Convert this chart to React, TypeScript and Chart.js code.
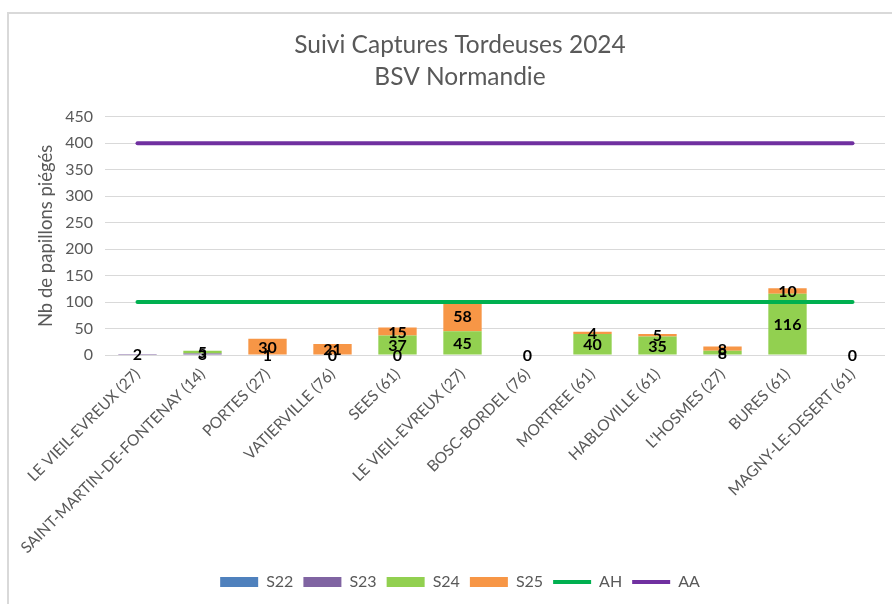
import React, { useEffect, useRef } from "react";
import { Chart, registerables } from "chart.js";

Chart.register(...registerables);

const categories = [
  "LE VIEIL-EVREUX (27)",
  "SAINT-MARTIN-DE-FONTENAY (14)",
  "PORTES (27)",
  "VATIERVILLE (76)",
  "SEES (61)",
  "LE VIEIL-EVREUX (27)",
  "BOSC-BORDEL (76)",
  "MORTREE (61)",
  "HABLOVILLE (61)",
  "L'HOSMES (27)",
  "BURES (61)",
  "MAGNY-LE-DESERT (61)",
];

const s22: (number | null)[] = [null, null, null, null, null, null, null, null, null, null, null, null];
const s23: (number | null)[] = [2, 3, null, null, 0, null, null, null, null, null, null, null];
const s24: (number | null)[] = [null, 5, 1, 0, 37, 45, 0, 40, 35, 8, 116, 0];
const s25: (number | null)[] = [null, null, 30, 21, 15, 58, null, 4, 5, 8, 10, null];
const ah: number[] = [100, 100, 100, 100, 100, 100, 100, 100, 100, 100, 100, 100];
const aa: number[] = [400, 400, 400, 400, 400, 400, 400, 400, 400, 400, 400, 400];

const yMin = 0;
const yMax = 450;
const yStep = 50;

const TEXT = "#595959";
const FONT = "Lato";

const valueLabels = {
  id: "valueLabels",
  afterDatasetsDraw(chart: any) {
    const ctx = chart.ctx;
    ctx.save();
    ctx.font = `bold 16px ${FONT}`;
    ctx.fillStyle = "#000000";
    ctx.textAlign = "center";
    ctx.textBaseline = "middle";
    chart.data.datasets.forEach((ds: any, i: number) => {
      if (ds.type === "line") return;
      const meta = chart.getDatasetMeta(i);
      meta.data.forEach((el: any, j: number) => {
        const v = ds.data[j];
        if (v === null || v === undefined) return;
        const p = el.getProps(["x", "y", "base"], true);
        ctx.fillText(String(v), p.x, (p.y + p.base) / 2 + 1);
      });
    });
    ctx.restore();
  },
};

export default function App() {
  const ref = useRef<HTMLCanvasElement | null>(null);

  useEffect(() => {
    if (!ref.current) return;
    const barCommon = {
      type: "bar" as const,
      stack: "s",
      borderWidth: 0,
      pointStyle: "rect",
      categoryPercentage: 1,
      barPercentage: 0.59,
      order: 1,
    };
    const lineCommon = {
      type: "line" as const,
      borderWidth: 4,
      pointRadius: 0,
      pointHoverRadius: 0,
      pointStyle: "line",
      borderCapStyle: "round",
      fill: false,
      order: 0,
    };
    const chart = new Chart(ref.current, {
      type: "bar",
      data: {
        labels: categories,
        datasets: [
          { ...barCommon, label: "S22", data: s22, backgroundColor: "#4f81bd" },
          { ...barCommon, label: "S23", data: s23, backgroundColor: "#8064a2" },
          { ...barCommon, label: "S24", data: s24, backgroundColor: "#92d050" },
          { ...barCommon, label: "S25", data: s25, backgroundColor: "#f79646" },
          { ...lineCommon, label: "AH", stack: "ah", data: ah, borderColor: "#00b050", backgroundColor: "#00b050" },
          { ...lineCommon, label: "AA", stack: "aa", data: aa, borderColor: "#7030a0", backgroundColor: "#7030a0" },
        ] as any,
      },
      options: {
        responsive: false,
        animation: false,
        layout: { padding: { left: 35, right: 31, top: 0, bottom: 4 } },
        plugins: {
          tooltip: { enabled: false },
          title: {
            display: true,
            text: ["Suivi Captures Tordeuses 2024", "BSV Normandie"],
            color: TEXT,
            font: { family: FONT, size: 24.5, weight: "normal", lineHeight: 1.3 },
            padding: { top: 29, bottom: 24 },
          },
          legend: {
            position: "bottom",
            labels: {
              usePointStyle: true,
              pointStyleWidth: 38,
              boxHeight: 10,
              color: TEXT,
              font: { family: FONT, size: 16 },
              padding: 10,
              sort: (a: any, b: any) => a.datasetIndex - b.datasetIndex,
            },
          },
        },
        scales: {
          x: {
            stacked: true,
            grid: { display: false },
            border: { display: false },
            afterFit: (scale: any) => {
              scale.paddingLeft = 0;
              scale.height += 5;
            },
            ticks: {
              color: TEXT,
              font: { family: FONT, size: 15.5 },
              minRotation: 45,
              maxRotation: 45,
              autoSkip: false,
              padding: 2,
            },
          },
          y: {
            stacked: true,
            min: yMin,
            max: yMax,
            grid: { color: "#d9d9d9", lineWidth: 1, drawTicks: false },
            border: { display: false },
            afterFit: (scale: any) => {
              scale.width = 70;
            },
            ticks: {
              stepSize: yStep,
              color: TEXT,
              font: { family: FONT, size: 16 },
              padding: 12,
            },
            title: {
              display: true,
              text: "Nb de papillons piégés",
              color: TEXT,
              font: { family: FONT, size: 18.5 },
              padding: { top: 0, bottom: 0 },
            },
          },
        },
      },
      plugins: [valueLabels],
    });
    return () => chart.destroy();
  }, []);

  return (
    <div
      style={{
        position: "absolute",
        left: 0,
        top: 0,
        width: 892,
        height: 604,
        overflow: "hidden",
        background: "#ffffff",
      }}
    >
      <canvas
        ref={ref}
        width={916}
        height={604}
        style={{ position: "absolute", left: 0, top: 0, width: 916, height: 604 }}
      />
      <div
        style={{
          position: "absolute",
          left: 7,
          top: 12,
          width: 1000,
          height: 1000,
          border: "2px solid #d9d9d9",
          pointerEvents: "none",
        }}
      />
    </div>
  );
}
